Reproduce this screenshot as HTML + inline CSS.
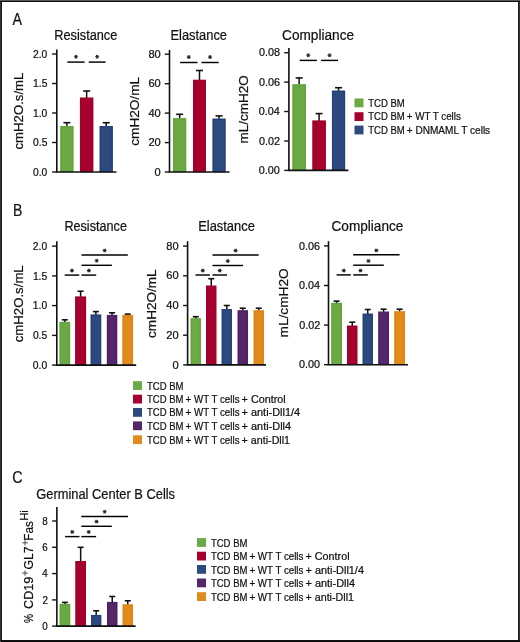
<!DOCTYPE html>
<html><head><meta charset="utf-8"><style>
html,body{margin:0;padding:0;background:#fff;}
body{width:520px;height:642px;overflow:hidden;}
svg{display:block;font-family:"Liberation Sans", sans-serif;will-change:transform;}
text{fill:#111;stroke:#111;stroke-width:0.22px;}
</style></head><body>
<svg width="520" height="642" viewBox="0 0 520 642">
<rect x="0" y="0" width="520" height="642" fill="#fff"/>
<text x="12.60" y="24.9" font-size="16.8" textLength="9.53" lengthAdjust="spacingAndGlyphs">A</text>
<line x1="66.9" y1="126.5" x2="66.9" y2="122.7" stroke="#111" stroke-width="1.5"/>
<line x1="63.400000000000006" y1="122.7" x2="70.4" y2="122.7" stroke="#111" stroke-width="1.6"/>
<rect x="60.2" y="126" width="13.40" height="46.00" fill="#6aa944"/>
<rect x="61.20" y="127.00" width="11.40" height="44.80" fill="none" stroke="#62a23b" stroke-width="0.9"/>
<line x1="86.65" y1="98.0" x2="86.65" y2="91" stroke="#111" stroke-width="1.5"/>
<line x1="83.15" y1="91" x2="90.15" y2="91" stroke="#111" stroke-width="1.6"/>
<rect x="79.9" y="97.5" width="13.50" height="74.50" fill="#a6002f"/>
<rect x="80.90" y="98.50" width="11.50" height="73.30" fill="none" stroke="#9c0028" stroke-width="0.9"/>
<line x1="106.2" y1="126.5" x2="106.2" y2="122.7" stroke="#111" stroke-width="1.5"/>
<line x1="102.7" y1="122.7" x2="109.7" y2="122.7" stroke="#111" stroke-width="1.6"/>
<rect x="99.5" y="126" width="13.40" height="46.00" fill="#2c4a7f"/>
<rect x="100.50" y="127.00" width="11.40" height="44.80" fill="none" stroke="#243f72" stroke-width="0.9"/>
<line x1="56.8" y1="49.4" x2="56.8" y2="172" stroke="#111" stroke-width="1.6"/>
<line x1="56.0" y1="172" x2="116.5" y2="172" stroke="#111" stroke-width="1.6"/>
<line x1="52.099999999999994" y1="54" x2="56.8" y2="54" stroke="#111" stroke-width="1.4"/>
<text x="33.04" y="57.6565" font-size="10.3" textLength="14.32" lengthAdjust="spacingAndGlyphs">2.0</text>
<line x1="52.099999999999994" y1="83.5" x2="56.8" y2="83.5" stroke="#111" stroke-width="1.4"/>
<text x="33.09" y="87.1565" font-size="10.3" textLength="14.32" lengthAdjust="spacingAndGlyphs">1.5</text>
<line x1="52.099999999999994" y1="113" x2="56.8" y2="113" stroke="#111" stroke-width="1.4"/>
<text x="33.04" y="116.6565" font-size="10.3" textLength="14.32" lengthAdjust="spacingAndGlyphs">1.0</text>
<line x1="52.099999999999994" y1="142.5" x2="56.8" y2="142.5" stroke="#111" stroke-width="1.4"/>
<text x="33.09" y="146.1565" font-size="10.3" textLength="14.32" lengthAdjust="spacingAndGlyphs">0.5</text>
<line x1="52.099999999999994" y1="172" x2="56.8" y2="172" stroke="#111" stroke-width="1.4"/>
<text x="33.04" y="175.6565" font-size="10.3" textLength="14.32" lengthAdjust="spacingAndGlyphs">0.0</text>
<line x1="67.3" y1="62.1" x2="84.6" y2="62.1" stroke="#000" stroke-width="1.45"/>
<path d="M73.95,56.70L77.95,56.70M74.95,54.97L76.95,58.43M76.95,54.97L74.95,58.43" stroke="#2a2a2a" stroke-width="1.1" fill="none"/>
<line x1="88.7" y1="62.1" x2="105.6" y2="62.1" stroke="#000" stroke-width="1.45"/>
<path d="M95.15,56.70L99.15,56.70M96.15,54.97L98.15,58.43M98.15,54.97L96.15,58.43" stroke="#2a2a2a" stroke-width="1.1" fill="none"/>
<text x="54.28" y="39.6" font-size="14.0" textLength="63.05" lengthAdjust="spacingAndGlyphs">Resistance</text>
<text transform="rotate(-90)" x="-149.53" y="23.1" font-size="13.1" textLength="76.91" lengthAdjust="spacingAndGlyphs">cmH2O.s/mL</text>
<line x1="179.65" y1="118.6" x2="179.65" y2="114.3" stroke="#111" stroke-width="1.5"/>
<line x1="176.15" y1="114.3" x2="183.15" y2="114.3" stroke="#111" stroke-width="1.6"/>
<rect x="173" y="118.1" width="13.30" height="53.90" fill="#6aa944"/>
<rect x="174.00" y="119.10" width="11.30" height="52.70" fill="none" stroke="#62a23b" stroke-width="0.9"/>
<line x1="199.5" y1="80.2" x2="199.5" y2="70.5" stroke="#111" stroke-width="1.5"/>
<line x1="196.0" y1="70.5" x2="203.0" y2="70.5" stroke="#111" stroke-width="1.6"/>
<rect x="193" y="79.7" width="13.00" height="92.30" fill="#a6002f"/>
<rect x="194.00" y="80.70" width="11.00" height="91.10" fill="none" stroke="#9c0028" stroke-width="0.9"/>
<line x1="219.05" y1="119.0" x2="219.05" y2="115.9" stroke="#111" stroke-width="1.5"/>
<line x1="215.55" y1="115.9" x2="222.55" y2="115.9" stroke="#111" stroke-width="1.6"/>
<rect x="212.4" y="118.5" width="13.30" height="53.50" fill="#2c4a7f"/>
<rect x="213.40" y="119.50" width="11.30" height="52.30" fill="none" stroke="#243f72" stroke-width="0.9"/>
<line x1="169.5" y1="49.9" x2="169.5" y2="172" stroke="#111" stroke-width="1.6"/>
<line x1="168.7" y1="172" x2="229.5" y2="172" stroke="#111" stroke-width="1.6"/>
<line x1="164.8" y1="54.2" x2="169.5" y2="54.2" stroke="#111" stroke-width="1.4"/>
<text x="148.44" y="57.856500000000004" font-size="10.3" textLength="12.37" lengthAdjust="spacingAndGlyphs">80</text>
<line x1="164.8" y1="83.7" x2="169.5" y2="83.7" stroke="#111" stroke-width="1.4"/>
<text x="148.44" y="87.3565" font-size="10.3" textLength="12.37" lengthAdjust="spacingAndGlyphs">60</text>
<line x1="164.8" y1="113.1" x2="169.5" y2="113.1" stroke="#111" stroke-width="1.4"/>
<text x="148.44" y="116.75649999999999" font-size="10.3" textLength="12.37" lengthAdjust="spacingAndGlyphs">40</text>
<line x1="164.8" y1="142.6" x2="169.5" y2="142.6" stroke="#111" stroke-width="1.4"/>
<text x="148.44" y="146.2565" font-size="10.3" textLength="12.37" lengthAdjust="spacingAndGlyphs">20</text>
<line x1="164.8" y1="172" x2="169.5" y2="172" stroke="#111" stroke-width="1.4"/>
<text x="154.62" y="175.6565" font-size="10.3" textLength="6.19" lengthAdjust="spacingAndGlyphs">0</text>
<line x1="180.1" y1="62.5" x2="197.5" y2="62.5" stroke="#000" stroke-width="1.45"/>
<path d="M186.80,57.10L190.80,57.10M187.80,55.37L189.80,58.83M189.80,55.37L187.80,58.83" stroke="#2a2a2a" stroke-width="1.1" fill="none"/>
<line x1="201.4" y1="62.5" x2="218.7" y2="62.5" stroke="#000" stroke-width="1.45"/>
<path d="M208.05,57.10L212.05,57.10M209.05,55.37L211.05,58.83M211.05,55.37L209.05,58.83" stroke="#2a2a2a" stroke-width="1.1" fill="none"/>
<text x="170.47" y="39.6" font-size="14.0" textLength="56.57" lengthAdjust="spacingAndGlyphs">Elastance</text>
<text transform="rotate(-90)" x="-145.74" y="139.3" font-size="13.1" textLength="68.77" lengthAdjust="spacingAndGlyphs">cmH2O/mL</text>
<line x1="299.15" y1="84.7" x2="299.15" y2="77.9" stroke="#111" stroke-width="1.5"/>
<line x1="295.65" y1="77.9" x2="302.65" y2="77.9" stroke="#111" stroke-width="1.6"/>
<rect x="292.3" y="84.2" width="13.70" height="86.20" fill="#6aa944"/>
<rect x="293.30" y="85.20" width="11.70" height="85.00" fill="none" stroke="#62a23b" stroke-width="0.9"/>
<line x1="319.1" y1="120.9" x2="319.1" y2="113.6" stroke="#111" stroke-width="1.5"/>
<line x1="315.6" y1="113.6" x2="322.6" y2="113.6" stroke="#111" stroke-width="1.6"/>
<rect x="312.3" y="120.4" width="13.60" height="50.00" fill="#a6002f"/>
<rect x="313.30" y="121.40" width="11.60" height="48.80" fill="none" stroke="#9c0028" stroke-width="0.9"/>
<line x1="338.54999999999995" y1="91.0" x2="338.54999999999995" y2="87.7" stroke="#111" stroke-width="1.5"/>
<line x1="335.04999999999995" y1="87.7" x2="342.04999999999995" y2="87.7" stroke="#111" stroke-width="1.6"/>
<rect x="331.9" y="90.5" width="13.30" height="79.90" fill="#2c4a7f"/>
<rect x="332.90" y="91.50" width="11.30" height="78.70" fill="none" stroke="#243f72" stroke-width="0.9"/>
<line x1="288.9" y1="48.1" x2="288.9" y2="170.4" stroke="#111" stroke-width="1.6"/>
<line x1="288.09999999999997" y1="170.4" x2="348.5" y2="170.4" stroke="#111" stroke-width="1.6"/>
<line x1="284.2" y1="52.7" x2="288.9" y2="52.7" stroke="#111" stroke-width="1.4"/>
<text x="258.90" y="56.356500000000004" font-size="10.3" textLength="21.05" lengthAdjust="spacingAndGlyphs">0.08</text>
<line x1="284.2" y1="82.1" x2="288.9" y2="82.1" stroke="#111" stroke-width="1.4"/>
<text x="258.90" y="85.75649999999999" font-size="10.3" textLength="21.05" lengthAdjust="spacingAndGlyphs">0.06</text>
<line x1="284.2" y1="111.5" x2="288.9" y2="111.5" stroke="#111" stroke-width="1.4"/>
<text x="258.74" y="115.1565" font-size="10.3" textLength="21.05" lengthAdjust="spacingAndGlyphs">0.04</text>
<line x1="284.2" y1="141" x2="288.9" y2="141" stroke="#111" stroke-width="1.4"/>
<text x="258.95" y="144.6565" font-size="10.3" textLength="21.05" lengthAdjust="spacingAndGlyphs">0.02</text>
<line x1="284.2" y1="170.4" x2="288.9" y2="170.4" stroke="#111" stroke-width="1.4"/>
<text x="258.84" y="174.0565" font-size="10.3" textLength="21.05" lengthAdjust="spacingAndGlyphs">0.00</text>
<line x1="299.7" y1="60.4" x2="316.9" y2="60.4" stroke="#000" stroke-width="1.45"/>
<path d="M306.30,55.20L310.30,55.20M307.30,53.47L309.30,56.93M309.30,53.47L307.30,56.93" stroke="#2a2a2a" stroke-width="1.1" fill="none"/>
<line x1="321.1" y1="60.4" x2="338" y2="60.4" stroke="#000" stroke-width="1.45"/>
<path d="M327.55,55.20L331.55,55.20M328.55,53.47L330.55,56.93M330.55,53.47L328.55,56.93" stroke="#2a2a2a" stroke-width="1.1" fill="none"/>
<text x="282.12" y="39.6" font-size="14.0" textLength="71.93" lengthAdjust="spacingAndGlyphs">Compliance</text>
<text transform="rotate(-90)" x="-143.48" y="248.4" font-size="13.1" textLength="68.20" lengthAdjust="spacingAndGlyphs">mL/cmH2O</text>
<rect x="354.5" y="98.5" width="9.00" height="8.80" fill="#6aa944"/>
<text x="368.21" y="106.6" font-size="10.6" textLength="36.54" lengthAdjust="spacingAndGlyphs">TCD BM</text>
<rect x="354.5" y="112.2" width="9.00" height="8.80" fill="#a6002f"/>
<text x="368.21" y="120.3" font-size="10.6" textLength="36.54" lengthAdjust="spacingAndGlyphs">TCD BM</text>
<text x="406.76" y="120.3" font-size="10.6" textLength="54.08" lengthAdjust="spacingAndGlyphs">+ WT T cells</text>
<rect x="354.5" y="125.6" width="9.00" height="8.80" fill="#2c4a7f"/>
<text x="368.21" y="133.7" font-size="10.6" textLength="36.54" lengthAdjust="spacingAndGlyphs">TCD BM</text>
<text x="406.75" y="133.7" font-size="10.6" textLength="83.40" lengthAdjust="spacingAndGlyphs">+ DNMAML T cells</text>
<text x="13.08" y="215.8" font-size="16.8" textLength="9.35" lengthAdjust="spacingAndGlyphs">B</text>
<line x1="64.8" y1="322.3" x2="64.8" y2="319.8" stroke="#111" stroke-width="1.5"/>
<line x1="61.8" y1="319.8" x2="67.8" y2="319.8" stroke="#111" stroke-width="1.6"/>
<rect x="59.4" y="321.8" width="10.80" height="43.30" fill="#6aa944"/>
<rect x="60.40" y="322.80" width="8.80" height="42.10" fill="none" stroke="#62a23b" stroke-width="0.9"/>
<line x1="80.6" y1="296.9" x2="80.6" y2="291.2" stroke="#111" stroke-width="1.5"/>
<line x1="77.6" y1="291.2" x2="83.6" y2="291.2" stroke="#111" stroke-width="1.6"/>
<rect x="75.1" y="296.4" width="11.00" height="68.70" fill="#a6002f"/>
<rect x="76.10" y="297.40" width="9.00" height="67.50" fill="none" stroke="#9c0028" stroke-width="0.9"/>
<line x1="95.9" y1="314.9" x2="95.9" y2="311.6" stroke="#111" stroke-width="1.5"/>
<line x1="92.9" y1="311.6" x2="98.9" y2="311.6" stroke="#111" stroke-width="1.6"/>
<rect x="90.5" y="314.4" width="10.80" height="50.70" fill="#2c4a7f"/>
<rect x="91.50" y="315.40" width="8.80" height="49.50" fill="none" stroke="#243f72" stroke-width="0.9"/>
<line x1="112.05" y1="315.4" x2="112.05" y2="312.8" stroke="#111" stroke-width="1.5"/>
<line x1="109.05" y1="312.8" x2="115.05" y2="312.8" stroke="#111" stroke-width="1.6"/>
<rect x="106.8" y="314.9" width="10.50" height="50.20" fill="#55266a"/>
<rect x="107.80" y="315.90" width="8.50" height="49.00" fill="none" stroke="#4c1f60" stroke-width="0.9"/>
<line x1="127.69999999999999" y1="315.4" x2="127.69999999999999" y2="314.1" stroke="#111" stroke-width="1.5"/>
<line x1="124.69999999999999" y1="314.1" x2="130.7" y2="314.1" stroke="#111" stroke-width="1.6"/>
<rect x="122.3" y="314.9" width="10.80" height="50.20" fill="#e08b1b"/>
<rect x="123.30" y="315.90" width="8.80" height="49.00" fill="none" stroke="#d88314" stroke-width="0.9"/>
<line x1="56.8" y1="241.2" x2="56.8" y2="365.1" stroke="#111" stroke-width="1.6"/>
<line x1="56.0" y1="365.1" x2="136.2" y2="365.1" stroke="#111" stroke-width="1.6"/>
<line x1="52.099999999999994" y1="246.1" x2="56.8" y2="246.1" stroke="#111" stroke-width="1.4"/>
<text x="32.84" y="249.7565" font-size="10.3" textLength="14.32" lengthAdjust="spacingAndGlyphs">2.0</text>
<line x1="52.099999999999994" y1="275.9" x2="56.8" y2="275.9" stroke="#111" stroke-width="1.4"/>
<text x="32.89" y="279.55649999999997" font-size="10.3" textLength="14.32" lengthAdjust="spacingAndGlyphs">1.5</text>
<line x1="52.099999999999994" y1="305.6" x2="56.8" y2="305.6" stroke="#111" stroke-width="1.4"/>
<text x="32.84" y="309.2565" font-size="10.3" textLength="14.32" lengthAdjust="spacingAndGlyphs">1.0</text>
<line x1="52.099999999999994" y1="335.4" x2="56.8" y2="335.4" stroke="#111" stroke-width="1.4"/>
<text x="32.89" y="339.05649999999997" font-size="10.3" textLength="14.32" lengthAdjust="spacingAndGlyphs">0.5</text>
<line x1="52.099999999999994" y1="365.1" x2="56.8" y2="365.1" stroke="#111" stroke-width="1.4"/>
<text x="32.84" y="368.7565" font-size="10.3" textLength="14.32" lengthAdjust="spacingAndGlyphs">0.0</text>
<line x1="64.7" y1="275.1" x2="79.2" y2="275.1" stroke="#000" stroke-width="1.45"/>
<path d="M69.95,270.60L73.95,270.60M70.95,268.87L72.95,272.33M72.95,268.87L70.95,272.33" stroke="#2a2a2a" stroke-width="1.1" fill="none"/>
<line x1="81.5" y1="275.1" x2="96.2" y2="275.1" stroke="#000" stroke-width="1.45"/>
<path d="M86.85,270.60L90.85,270.60M87.85,268.87L89.85,272.33M89.85,268.87L87.85,272.33" stroke="#2a2a2a" stroke-width="1.1" fill="none"/>
<line x1="81.5" y1="265.3" x2="111.9" y2="265.3" stroke="#000" stroke-width="1.45"/>
<path d="M94.70,260.80L98.70,260.80M95.70,259.07L97.70,262.53M97.70,259.07L95.70,262.53" stroke="#2a2a2a" stroke-width="1.1" fill="none"/>
<line x1="81.5" y1="255" x2="127.8" y2="255" stroke="#000" stroke-width="1.45"/>
<path d="M102.65,250.50L106.65,250.50M103.65,248.77L105.65,252.23M105.65,248.77L103.65,252.23" stroke="#2a2a2a" stroke-width="1.1" fill="none"/>
<text x="64.39" y="230.9" font-size="14.0" textLength="62.54" lengthAdjust="spacingAndGlyphs">Resistance</text>
<text transform="rotate(-90)" x="-342.23" y="23.1" font-size="13.1" textLength="76.91" lengthAdjust="spacingAndGlyphs">cmH2O.s/mL</text>
<line x1="195.75" y1="318.7" x2="195.75" y2="316.7" stroke="#111" stroke-width="1.5"/>
<line x1="192.75" y1="316.7" x2="198.75" y2="316.7" stroke="#111" stroke-width="1.6"/>
<rect x="190.5" y="318.2" width="10.50" height="46.70" fill="#6aa944"/>
<rect x="191.50" y="319.20" width="8.50" height="45.50" fill="none" stroke="#62a23b" stroke-width="0.9"/>
<line x1="211.25" y1="286.0" x2="211.25" y2="278.7" stroke="#111" stroke-width="1.5"/>
<line x1="208.25" y1="278.7" x2="214.25" y2="278.7" stroke="#111" stroke-width="1.6"/>
<rect x="206" y="285.5" width="10.50" height="79.40" fill="#a6002f"/>
<rect x="207.00" y="286.50" width="8.50" height="78.20" fill="none" stroke="#9c0028" stroke-width="0.9"/>
<line x1="226.75" y1="309.5" x2="226.75" y2="305.5" stroke="#111" stroke-width="1.5"/>
<line x1="223.75" y1="305.5" x2="229.75" y2="305.5" stroke="#111" stroke-width="1.6"/>
<rect x="221.5" y="309" width="10.50" height="55.90" fill="#2c4a7f"/>
<rect x="222.50" y="310.00" width="8.50" height="54.70" fill="none" stroke="#243f72" stroke-width="0.9"/>
<line x1="242.75" y1="310.7" x2="242.75" y2="308.2" stroke="#111" stroke-width="1.5"/>
<line x1="239.75" y1="308.2" x2="245.75" y2="308.2" stroke="#111" stroke-width="1.6"/>
<rect x="237.5" y="310.2" width="10.50" height="54.70" fill="#55266a"/>
<rect x="238.50" y="311.20" width="8.50" height="53.50" fill="none" stroke="#4c1f60" stroke-width="0.9"/>
<line x1="258.75" y1="310.7" x2="258.75" y2="308.2" stroke="#111" stroke-width="1.5"/>
<line x1="255.75" y1="308.2" x2="261.75" y2="308.2" stroke="#111" stroke-width="1.6"/>
<rect x="253.5" y="310.2" width="10.50" height="54.70" fill="#e08b1b"/>
<rect x="254.50" y="311.20" width="8.50" height="53.50" fill="none" stroke="#d88314" stroke-width="0.9"/>
<line x1="187.6" y1="241.2" x2="187.6" y2="364.9" stroke="#111" stroke-width="1.6"/>
<line x1="186.79999999999998" y1="364.9" x2="266" y2="364.9" stroke="#111" stroke-width="1.6"/>
<line x1="183.1" y1="246.1" x2="187.6" y2="246.1" stroke="#111" stroke-width="1.4"/>
<text x="166.24" y="249.7565" font-size="10.3" textLength="12.37" lengthAdjust="spacingAndGlyphs">80</text>
<line x1="183.1" y1="275.8" x2="187.6" y2="275.8" stroke="#111" stroke-width="1.4"/>
<text x="166.24" y="279.4565" font-size="10.3" textLength="12.37" lengthAdjust="spacingAndGlyphs">60</text>
<line x1="183.1" y1="305.5" x2="187.6" y2="305.5" stroke="#111" stroke-width="1.4"/>
<text x="166.24" y="309.1565" font-size="10.3" textLength="12.37" lengthAdjust="spacingAndGlyphs">40</text>
<line x1="183.1" y1="335.2" x2="187.6" y2="335.2" stroke="#111" stroke-width="1.4"/>
<text x="166.24" y="338.8565" font-size="10.3" textLength="12.37" lengthAdjust="spacingAndGlyphs">20</text>
<line x1="183.1" y1="364.9" x2="187.6" y2="364.9" stroke="#111" stroke-width="1.4"/>
<text x="172.42" y="368.55649999999997" font-size="10.3" textLength="6.19" lengthAdjust="spacingAndGlyphs">0</text>
<line x1="195.5" y1="275" x2="210" y2="275" stroke="#000" stroke-width="1.45"/>
<path d="M200.75,270.60L204.75,270.60M201.75,268.87L203.75,272.33M203.75,268.87L201.75,272.33" stroke="#2a2a2a" stroke-width="1.1" fill="none"/>
<line x1="212.5" y1="275" x2="227" y2="275" stroke="#000" stroke-width="1.45"/>
<path d="M217.75,270.60L221.75,270.60M218.75,268.87L220.75,272.33M220.75,268.87L218.75,272.33" stroke="#2a2a2a" stroke-width="1.1" fill="none"/>
<line x1="212.5" y1="265.5" x2="243" y2="265.5" stroke="#000" stroke-width="1.45"/>
<path d="M225.75,261.10L229.75,261.10M226.75,259.37L228.75,262.83M228.75,259.37L226.75,262.83" stroke="#2a2a2a" stroke-width="1.1" fill="none"/>
<line x1="212.5" y1="255" x2="258.7" y2="255" stroke="#000" stroke-width="1.45"/>
<path d="M233.60,250.60L237.60,250.60M234.60,248.87L236.60,252.33M236.60,248.87L234.60,252.33" stroke="#2a2a2a" stroke-width="1.1" fill="none"/>
<text x="198.17" y="230.9" font-size="14.0" textLength="56.67" lengthAdjust="spacingAndGlyphs">Elastance</text>
<text transform="rotate(-90)" x="-337.94" y="156.3" font-size="13.1" textLength="68.57" lengthAdjust="spacingAndGlyphs">cmH2O/mL</text>
<line x1="336.6" y1="303.3" x2="336.6" y2="301.1" stroke="#111" stroke-width="1.5"/>
<line x1="333.6" y1="301.1" x2="339.6" y2="301.1" stroke="#111" stroke-width="1.6"/>
<rect x="331.2" y="302.8" width="10.80" height="61.90" fill="#6aa944"/>
<rect x="332.20" y="303.80" width="8.80" height="60.70" fill="none" stroke="#62a23b" stroke-width="0.9"/>
<line x1="352.25" y1="326.0" x2="352.25" y2="322.2" stroke="#111" stroke-width="1.5"/>
<line x1="349.25" y1="322.2" x2="355.25" y2="322.2" stroke="#111" stroke-width="1.6"/>
<rect x="347" y="325.5" width="10.50" height="39.20" fill="#a6002f"/>
<rect x="348.00" y="326.50" width="8.50" height="38.00" fill="none" stroke="#9c0028" stroke-width="0.9"/>
<line x1="367.75" y1="314.0" x2="367.75" y2="309.5" stroke="#111" stroke-width="1.5"/>
<line x1="364.75" y1="309.5" x2="370.75" y2="309.5" stroke="#111" stroke-width="1.6"/>
<rect x="362.5" y="313.5" width="10.50" height="51.20" fill="#2c4a7f"/>
<rect x="363.50" y="314.50" width="8.50" height="50.00" fill="none" stroke="#243f72" stroke-width="0.9"/>
<line x1="383.6" y1="312.0" x2="383.6" y2="309.2" stroke="#111" stroke-width="1.5"/>
<line x1="380.6" y1="309.2" x2="386.6" y2="309.2" stroke="#111" stroke-width="1.6"/>
<rect x="378.2" y="311.5" width="10.80" height="53.20" fill="#55266a"/>
<rect x="379.20" y="312.50" width="8.80" height="52.00" fill="none" stroke="#4c1f60" stroke-width="0.9"/>
<line x1="399.6" y1="311.7" x2="399.6" y2="309.2" stroke="#111" stroke-width="1.5"/>
<line x1="396.6" y1="309.2" x2="402.6" y2="309.2" stroke="#111" stroke-width="1.6"/>
<rect x="394.2" y="311.2" width="10.80" height="53.50" fill="#e08b1b"/>
<rect x="395.20" y="312.20" width="8.80" height="52.30" fill="none" stroke="#d88314" stroke-width="0.9"/>
<line x1="328.5" y1="241.2" x2="328.5" y2="364.7" stroke="#111" stroke-width="1.6"/>
<line x1="327.7" y1="364.7" x2="408" y2="364.7" stroke="#111" stroke-width="1.6"/>
<line x1="324.0" y1="245.9" x2="328.5" y2="245.9" stroke="#111" stroke-width="1.4"/>
<text x="299.10" y="249.5565" font-size="10.3" textLength="21.05" lengthAdjust="spacingAndGlyphs">0.06</text>
<line x1="324.0" y1="285.5" x2="328.5" y2="285.5" stroke="#111" stroke-width="1.4"/>
<text x="298.94" y="289.1565" font-size="10.3" textLength="21.05" lengthAdjust="spacingAndGlyphs">0.04</text>
<line x1="324.0" y1="325.1" x2="328.5" y2="325.1" stroke="#111" stroke-width="1.4"/>
<text x="299.15" y="328.7565" font-size="10.3" textLength="21.05" lengthAdjust="spacingAndGlyphs">0.02</text>
<line x1="324.0" y1="364.7" x2="328.5" y2="364.7" stroke="#111" stroke-width="1.4"/>
<text x="299.04" y="368.3565" font-size="10.3" textLength="21.05" lengthAdjust="spacingAndGlyphs">0.00</text>
<line x1="336.6" y1="274.9" x2="350.9" y2="274.9" stroke="#000" stroke-width="1.45"/>
<path d="M341.75,270.60L345.75,270.60M342.75,268.87L344.75,272.33M344.75,268.87L342.75,272.33" stroke="#2a2a2a" stroke-width="1.1" fill="none"/>
<line x1="353.2" y1="274.9" x2="367.8" y2="274.9" stroke="#000" stroke-width="1.45"/>
<path d="M358.50,270.60L362.50,270.60M359.50,268.87L361.50,272.33M361.50,268.87L359.50,272.33" stroke="#2a2a2a" stroke-width="1.1" fill="none"/>
<line x1="353.2" y1="265.2" x2="383.8" y2="265.2" stroke="#000" stroke-width="1.45"/>
<path d="M366.50,260.90L370.50,260.90M367.50,259.17L369.50,262.63M369.50,259.17L367.50,262.63" stroke="#2a2a2a" stroke-width="1.1" fill="none"/>
<line x1="353.2" y1="254.7" x2="399.6" y2="254.7" stroke="#000" stroke-width="1.45"/>
<path d="M374.40,250.40L378.40,250.40M375.40,248.67L377.40,252.13M377.40,248.67L375.40,252.13" stroke="#2a2a2a" stroke-width="1.1" fill="none"/>
<text x="331.52" y="230.9" font-size="14.0" textLength="71.83" lengthAdjust="spacingAndGlyphs">Compliance</text>
<text transform="rotate(-90)" x="-337.49" y="288.0" font-size="13.1" textLength="69.22" lengthAdjust="spacingAndGlyphs">mL/cmH2O</text>
<rect x="133" y="381.2" width="9.00" height="8.80" fill="#6aa944"/>
<text x="147.01" y="389.5" font-size="10.6" textLength="36.54" lengthAdjust="spacingAndGlyphs">TCD BM</text>
<rect x="133" y="394.7" width="9.00" height="8.80" fill="#a6002f"/>
<text x="147.01" y="403.0" font-size="10.6" textLength="36.54" lengthAdjust="spacingAndGlyphs">TCD BM</text>
<text x="185.56" y="403.0" font-size="10.6" textLength="53.97" lengthAdjust="spacingAndGlyphs">+ WT T cells</text>
<text x="241.61" y="403.0" font-size="10.6" textLength="44.04" lengthAdjust="spacingAndGlyphs">+ Control</text>
<rect x="133" y="408.0" width="9.00" height="8.80" fill="#2c4a7f"/>
<text x="147.01" y="416.3" font-size="10.6" textLength="36.54" lengthAdjust="spacingAndGlyphs">TCD BM</text>
<text x="185.56" y="416.3" font-size="10.6" textLength="53.97" lengthAdjust="spacingAndGlyphs">+ WT T cells</text>
<text x="241.61" y="416.3" font-size="10.6" textLength="58.45" lengthAdjust="spacingAndGlyphs">+ anti-Dll1/4</text>
<rect x="133" y="421.4" width="9.00" height="8.80" fill="#55266a"/>
<text x="147.01" y="429.7" font-size="10.6" textLength="36.54" lengthAdjust="spacingAndGlyphs">TCD BM</text>
<text x="185.56" y="429.7" font-size="10.6" textLength="53.97" lengthAdjust="spacingAndGlyphs">+ WT T cells</text>
<text x="241.61" y="429.7" font-size="10.6" textLength="49.46" lengthAdjust="spacingAndGlyphs">+ anti-Dll4</text>
<rect x="133" y="435.3" width="9.00" height="8.80" fill="#e08b1b"/>
<text x="147.01" y="443.6" font-size="10.6" textLength="36.54" lengthAdjust="spacingAndGlyphs">TCD BM</text>
<text x="185.56" y="443.6" font-size="10.6" textLength="53.97" lengthAdjust="spacingAndGlyphs">+ WT T cells</text>
<text x="241.62" y="443.6" font-size="10.6" textLength="48.46" lengthAdjust="spacingAndGlyphs">+ anti-Dll1</text>
<text x="12.18" y="482.9" font-size="16.8" textLength="10.46" lengthAdjust="spacingAndGlyphs">C</text>
<line x1="64.9" y1="604.3" x2="64.9" y2="602.4" stroke="#111" stroke-width="1.5"/>
<line x1="61.900000000000006" y1="602.4" x2="67.9" y2="602.4" stroke="#111" stroke-width="1.6"/>
<rect x="59.5" y="603.8" width="10.80" height="22.30" fill="#6aa944"/>
<rect x="60.50" y="604.80" width="8.80" height="21.10" fill="none" stroke="#62a23b" stroke-width="0.9"/>
<line x1="80.65" y1="561.5" x2="80.65" y2="547.3" stroke="#111" stroke-width="1.5"/>
<line x1="77.65" y1="547.3" x2="83.65" y2="547.3" stroke="#111" stroke-width="1.6"/>
<rect x="75.3" y="561" width="10.70" height="65.10" fill="#a6002f"/>
<rect x="76.30" y="562.00" width="8.70" height="63.90" fill="none" stroke="#9c0028" stroke-width="0.9"/>
<line x1="96.2" y1="615.4" x2="96.2" y2="610.8" stroke="#111" stroke-width="1.5"/>
<line x1="93.2" y1="610.8" x2="99.2" y2="610.8" stroke="#111" stroke-width="1.6"/>
<rect x="91.0" y="614.9" width="10.40" height="11.20" fill="#2c4a7f"/>
<rect x="92.00" y="615.90" width="8.40" height="10.00" fill="none" stroke="#243f72" stroke-width="0.9"/>
<line x1="112.25" y1="602.4" x2="112.25" y2="596.5" stroke="#111" stroke-width="1.5"/>
<line x1="109.25" y1="596.5" x2="115.25" y2="596.5" stroke="#111" stroke-width="1.6"/>
<rect x="107.0" y="601.9" width="10.50" height="24.20" fill="#55266a"/>
<rect x="108.00" y="602.90" width="8.50" height="23.00" fill="none" stroke="#4c1f60" stroke-width="0.9"/>
<line x1="127.75" y1="604.8" x2="127.75" y2="600.8" stroke="#111" stroke-width="1.5"/>
<line x1="124.75" y1="600.8" x2="130.75" y2="600.8" stroke="#111" stroke-width="1.6"/>
<rect x="122.5" y="604.3" width="10.50" height="21.80" fill="#e08b1b"/>
<rect x="123.50" y="605.30" width="8.50" height="20.60" fill="none" stroke="#d88314" stroke-width="0.9"/>
<line x1="56.85" y1="507.1" x2="56.85" y2="626.1" stroke="#111" stroke-width="1.6"/>
<line x1="56.050000000000004" y1="626.1" x2="135.6" y2="626.1" stroke="#111" stroke-width="1.6"/>
<line x1="52.15" y1="521.0" x2="56.85" y2="521.0" stroke="#111" stroke-width="1.4"/>
<text x="42.36" y="524.6565" font-size="10.3" textLength="5.44" lengthAdjust="spacingAndGlyphs">8</text>
<line x1="52.15" y1="547.3" x2="56.85" y2="547.3" stroke="#111" stroke-width="1.4"/>
<text x="42.36" y="550.9565" font-size="10.3" textLength="5.44" lengthAdjust="spacingAndGlyphs">6</text>
<line x1="52.15" y1="573.6" x2="56.85" y2="573.6" stroke="#111" stroke-width="1.4"/>
<text x="42.21" y="577.2565000000001" font-size="10.3" textLength="5.44" lengthAdjust="spacingAndGlyphs">4</text>
<line x1="52.15" y1="599.9" x2="56.85" y2="599.9" stroke="#111" stroke-width="1.4"/>
<text x="42.41" y="603.5565" font-size="10.3" textLength="5.44" lengthAdjust="spacingAndGlyphs">2</text>
<line x1="52.15" y1="626.1" x2="56.85" y2="626.1" stroke="#111" stroke-width="1.4"/>
<text x="42.31" y="629.7565000000001" font-size="10.3" textLength="5.44" lengthAdjust="spacingAndGlyphs">0</text>
<line x1="65.1" y1="536.6" x2="79.5" y2="536.6" stroke="#000" stroke-width="1.45"/>
<path d="M70.30,531.90L74.30,531.90M71.30,530.17L73.30,533.63M73.30,530.17L71.30,533.63" stroke="#2a2a2a" stroke-width="1.1" fill="none"/>
<line x1="81.3" y1="536.6" x2="96.1" y2="536.6" stroke="#000" stroke-width="1.45"/>
<path d="M86.70,531.90L90.70,531.90M87.70,530.17L89.70,533.63M89.70,530.17L87.70,533.63" stroke="#2a2a2a" stroke-width="1.1" fill="none"/>
<line x1="81.3" y1="526.3" x2="111.8" y2="526.3" stroke="#000" stroke-width="1.45"/>
<path d="M94.55,521.60L98.55,521.60M95.55,519.87L97.55,523.33M97.55,519.87L95.55,523.33" stroke="#2a2a2a" stroke-width="1.1" fill="none"/>
<line x1="81.3" y1="516.4" x2="128" y2="516.4" stroke="#000" stroke-width="1.45"/>
<path d="M102.65,511.70L106.65,511.70M103.65,509.97L105.65,513.43M105.65,509.97L103.65,513.43" stroke="#2a2a2a" stroke-width="1.1" fill="none"/>
<text x="36.26" y="498.5" font-size="14.0" textLength="138.81" lengthAdjust="spacingAndGlyphs">Germinal Center B Cells</text>
<text transform="rotate(-90)" x="-623.05" y="32.7" font-size="13.6" textLength="9.00" lengthAdjust="spacingAndGlyphs">%</text>
<text transform="rotate(-90)" x="-608.93" y="32.7" font-size="13.6" textLength="32.11" lengthAdjust="spacingAndGlyphs">CD19</text>
<text transform="rotate(-90)" x="-569.51" y="32.7" font-size="13.6" textLength="22.96" lengthAdjust="spacingAndGlyphs">GL7</text>
<text transform="rotate(-90)" x="-540.63" y="32.7" font-size="13.6" textLength="19.36" lengthAdjust="spacingAndGlyphs">Fas</text>
<text transform="rotate(-90)" x="-520.80" y="27.8" font-size="10.2" textLength="10.57" lengthAdjust="spacingAndGlyphs">Hi</text>
<path d="M22.2,573.1H27.8M25.0,570.5V575.7" stroke="#444" stroke-width="0.95" fill="none"/>
<path d="M22.2,542.8H27.8M25.0,540.1999999999999V545.4" stroke="#444" stroke-width="0.95" fill="none"/>
<rect x="197" y="538.1" width="9.00" height="8.80" fill="#6aa944"/>
<text x="210.91" y="546.7" font-size="10.6" textLength="36.54" lengthAdjust="spacingAndGlyphs">TCD BM</text>
<rect x="197" y="551.7" width="9.00" height="8.80" fill="#a6002f"/>
<text x="210.91" y="560.3" font-size="10.6" textLength="36.54" lengthAdjust="spacingAndGlyphs">TCD BM</text>
<text x="249.46" y="560.3" font-size="10.6" textLength="53.97" lengthAdjust="spacingAndGlyphs">+ WT T cells</text>
<text x="305.51" y="560.3" font-size="10.6" textLength="44.04" lengthAdjust="spacingAndGlyphs">+ Control</text>
<rect x="197" y="565.0" width="9.00" height="8.80" fill="#2c4a7f"/>
<text x="210.91" y="573.6" font-size="10.6" textLength="36.54" lengthAdjust="spacingAndGlyphs">TCD BM</text>
<text x="249.46" y="573.6" font-size="10.6" textLength="53.97" lengthAdjust="spacingAndGlyphs">+ WT T cells</text>
<text x="305.51" y="573.6" font-size="10.6" textLength="58.45" lengthAdjust="spacingAndGlyphs">+ anti-Dll1/4</text>
<rect x="197" y="578.5" width="9.00" height="8.80" fill="#55266a"/>
<text x="210.91" y="587.1" font-size="10.6" textLength="36.54" lengthAdjust="spacingAndGlyphs">TCD BM</text>
<text x="249.46" y="587.1" font-size="10.6" textLength="53.97" lengthAdjust="spacingAndGlyphs">+ WT T cells</text>
<text x="305.51" y="587.1" font-size="10.6" textLength="49.46" lengthAdjust="spacingAndGlyphs">+ anti-Dll4</text>
<rect x="197" y="592.2" width="9.00" height="8.80" fill="#e08b1b"/>
<text x="210.91" y="600.8" font-size="10.6" textLength="36.54" lengthAdjust="spacingAndGlyphs">TCD BM</text>
<text x="249.46" y="600.8" font-size="10.6" textLength="53.97" lengthAdjust="spacingAndGlyphs">+ WT T cells</text>
<text x="305.52" y="600.8" font-size="10.6" textLength="48.46" lengthAdjust="spacingAndGlyphs">+ anti-Dll1</text>
<g shape-rendering="crispEdges">
<rect x="0" y="0" width="1" height="642" fill="#333"/>
<rect x="1" y="0" width="1" height="642" fill="#1c1c1c"/>
<rect x="518" y="0" width="1" height="642" fill="#202020"/>
<rect x="519" y="0" width="1" height="642" fill="#333"/>
<rect x="0" y="640" width="520" height="1" fill="#141414"/>
<rect x="0" y="641" width="520" height="1" fill="#060606"/>
<rect x="0" y="1" width="520" height="1" fill="#101010"/>
<rect x="0" y="0" width="520" height="1" fill="#575757"/>
<rect x="0" y="641" width="1" height="1" fill="#666"/>
</g>
</svg>
</body></html>
